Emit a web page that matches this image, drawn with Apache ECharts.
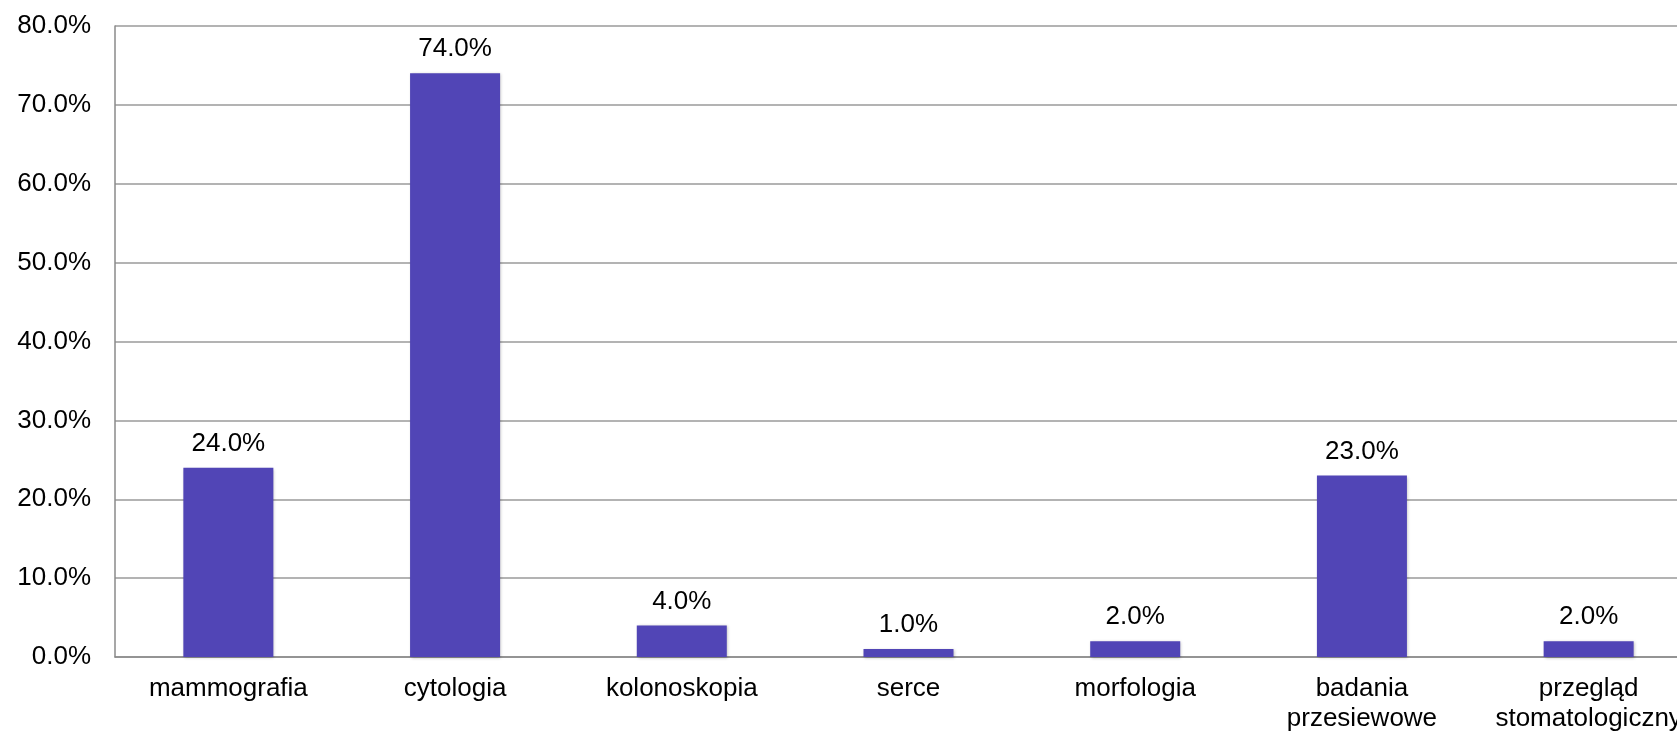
<!DOCTYPE html>
<html>
<head>
<meta charset="utf-8">
<script src="https://cdn.jsdelivr.net/npm/echarts@6/dist/echarts.min.js"></script>
<style>
  html, body { margin: 0; padding: 0; background: #fff; overflow: hidden; }
  #frame { width: 1677px; height: 732px; overflow: hidden; position: relative; }
  /* the canvas is wider than its frame, so the last category runs off the right edge */
  #chart { width: 1702px; height: 732px; position: absolute; left: 0; top: 0; }
</style>
</head>
<body>
<div id="frame"><div id="chart"></div></div>
<script>
// Badania profilaktyczne – odsetek odpowiedzi
const categories = ['mammografia', 'cytologia', 'kolonoskopia', 'serce', 'morfologia', 'badania\nprzesiewowe', 'przegląd\nstomatologiczny'];
const values = [24.0, 74.0, 4.0, 1.0, 2.0, 23.0, 2.0];
const yTicks = { min: 0, max: 80, interval: 10 };

const font = 'Liberation Sans, Arial, Helvetica, sans-serif';
const chart = echarts.init(document.getElementById('chart'), null, { renderer: 'canvas' });
chart.setOption({
  animation: false,
  backgroundColor: '#ffffff',
  grid: { left: 115, right: 0, top: 26, bottom: 75, outerBoundsMode: 'none', containLabel: false },
  xAxis: {
    type: 'category',
    data: categories,
    axisLine: { show: true, lineStyle: { color: '#8a8a8a', width: 1.5 } },
    axisTick: { show: false },
    axisLabel: {
      color: '#000', fontFamily: font, fontSize: 26, margin: 17,
      lineHeight: 30, interval: 0
    }
  },
  yAxis: {
    type: 'value',
    min: yTicks.min, max: yTicks.max, interval: yTicks.interval,
    axisLine: { show: true, lineStyle: { color: '#8a8a8a', width: 1.5 } },
    axisTick: { show: false },
    splitLine: { show: true, lineStyle: { color: '#9a9a9a', width: 1.5 } },
    axisLabel: {
      color: '#000', fontFamily: font, fontSize: 26, margin: 24,
      formatter: v => v.toFixed(1) + '%'
    }
  },
  series: [{
    type: 'bar',
    data: values,
    barWidth: '39.7%',
    itemStyle: {
      color: '#5145b6',
      shadowColor: 'rgba(0,0,0,0.25)', shadowBlur: 3, shadowOffsetX: 1, shadowOffsetY: 1
    },
    label: {
      show: true, position: 'top', distance: 11,
      color: '#000', fontFamily: font, fontSize: 26,
      formatter: p => p.value.toFixed(1) + '%'
    }
  }]
});
</script>
</body>
</html>
